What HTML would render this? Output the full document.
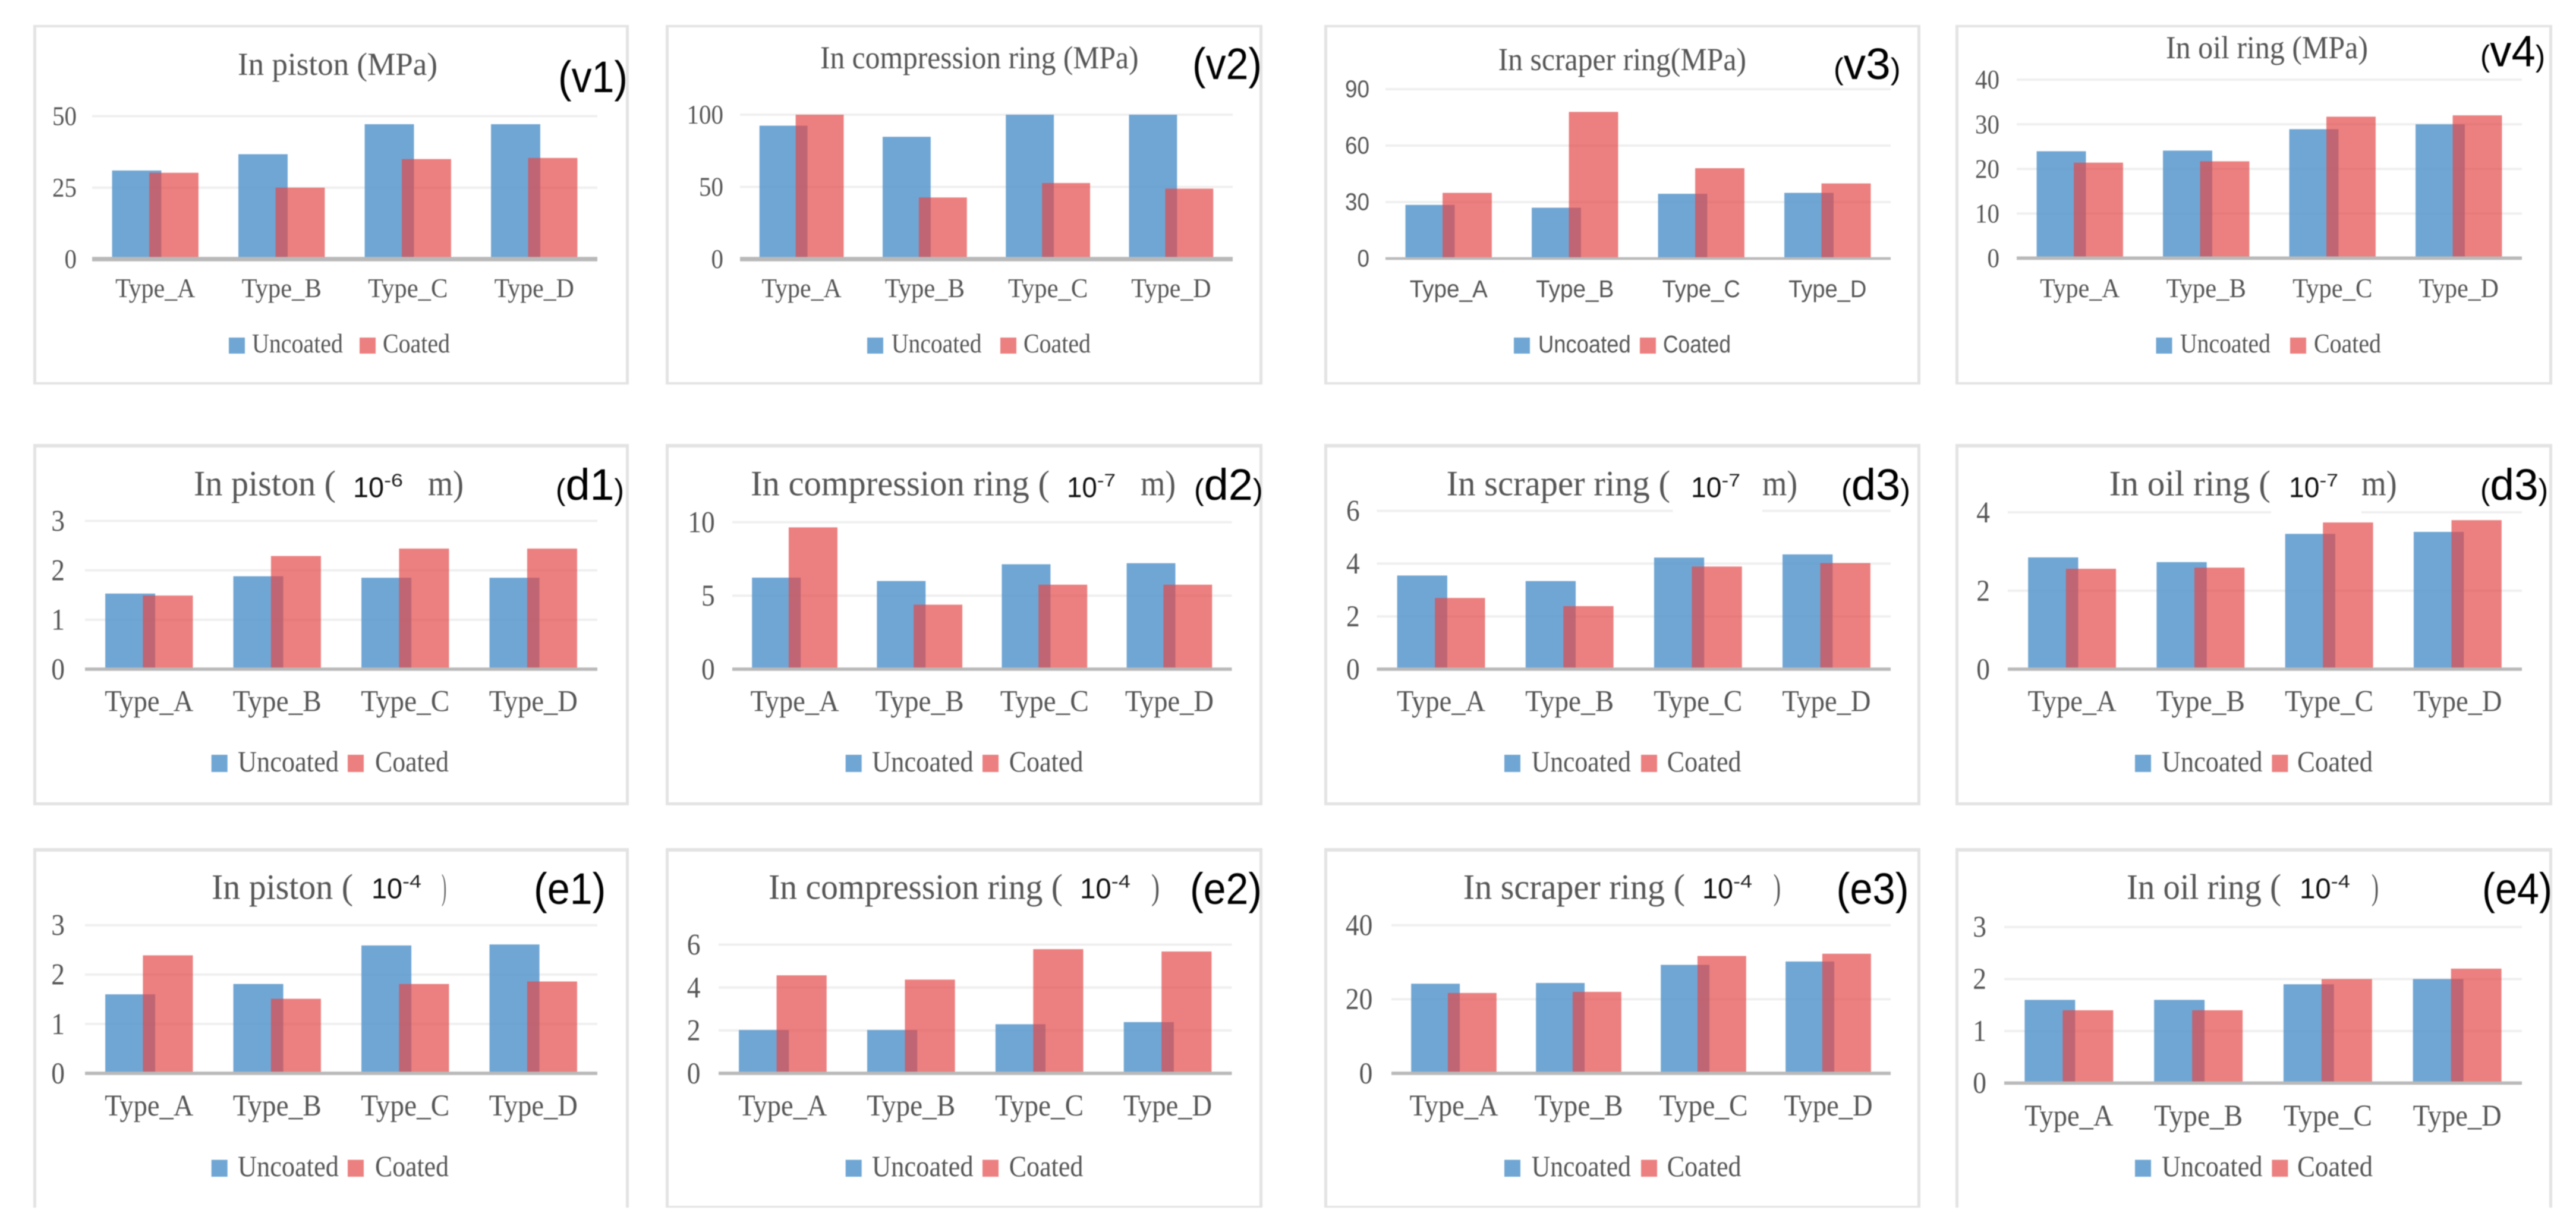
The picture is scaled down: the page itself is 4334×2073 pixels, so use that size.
<!DOCTYPE html>
<html lang="en">
<head>
<meta charset="utf-8">
<title>Stress, deformation and strain: uncoated vs coated</title>
<style>
html,body{margin:0;padding:0;background:#fff;width:4334px;height:2073px;overflow:hidden}
svg{display:block;filter:blur(0.8px)}
text{white-space:pre}
</style>
</head>
<body>
<svg id="figure" xmlns="http://www.w3.org/2000/svg" width="4334" height="2073" viewBox="0 0 4334 2073"></svg>
<script>
const categories = ['Type_A', 'Type_B', 'Type_C', 'Type_D'];
const seriesNames = ['Uncoated', 'Coated'];

const v1Uncoated = [31, 36.7, 47.2, 47.2];
const v1Coated = [30.2, 25, 35, 35.4];
const v1Ticks = [0, 25, 50];

const v2Uncoated = [92.4, 84.7, 100, 100];
const v2Coated = [100, 42.7, 52.7, 48.8];
const v2Ticks = [0, 50, 100];

const v3Uncoated = [28.5, 27, 34.4, 34.9];
const v3Coated = [34.9, 77.9, 48, 39.9];
const v3Ticks = [0, 30, 60, 90];

const v4Uncoated = [23.95, 24.1, 28.9, 30];
const v4Coated = [21.4, 21.7, 31.7, 32];
const v4Ticks = [0, 10, 20, 30, 40];

const d1Uncoated = [1.53, 1.88, 1.85, 1.85];
const d1Coated = [1.49, 2.29, 2.44, 2.44];
const d1Ticks = [0, 1, 2, 3];

const d2Uncoated = [6.23, 6.0, 7.14, 7.21];
const d2Coated = [9.65, 4.39, 5.75, 5.75];
const d2Ticks = [0, 5, 10];

const d3Uncoated = [3.55, 3.34, 4.23, 4.35];
const d3Coated = [2.7, 2.39, 3.89, 4.02];
const d3Ticks = [0, 2, 4, 6];

const d4Uncoated = [2.85, 2.73, 3.45, 3.5];
const d4Coated = [2.56, 2.59, 3.74, 3.8];
const d4Ticks = [0, 2, 4];

const e1Uncoated = [1.6, 1.81, 2.59, 2.61];
const e1Coated = [2.39, 1.51, 1.81, 1.86];
const e1Ticks = [0, 1, 2, 3];

const e2Uncoated = [2.02, 2.02, 2.29, 2.39];
const e2Coated = [4.57, 4.37, 5.79, 5.68];
const e2Ticks = [0, 2, 4, 6];

const e3Uncoated = [24.2, 24.4, 29.3, 30.2];
const e3Coated = [21.7, 22, 31.7, 32.3];
const e3Ticks = [0, 20, 40];

const e4Uncoated = [1.6, 1.6, 1.9, 2.0];
const e4Coated = [1.4, 1.4, 2.0, 2.2];
const e4Ticks = [0, 1, 2, 3];

const SERIF = '"Liberation Serif", serif';
const SANS = '"Liberation Sans", sans-serif';
const TEXT_COLOR = '#565656';
const BLUE = '#5796CC';
const RED = '#E44747';

const rowFrames = {
  r1: {top: 42, topH: 4, bottom: 643, bottomH: 4},
  r2: {top: 747, topH: 6, bottom: 1350, bottomH: 5},
  r3: {top: 1427, topH: 6, bottom: 2029, bottomH: 3}
};
const colFrames = {
  c1: {left: 56, right: 1058},
  c2: {left: 1120, right: 2124},
  c3: {left: 2228, right: 3231},
  c4: {left: 3290, right: 4294}
};

const panels = [
  {id: 'v1', u: v1Uncoated, c: v1Coated, ticks: v1Ticks, row: 'r1', col: 'c1', L: 155, R: 1005, y0: 436, yTop: 195.5, axisH: 7.5, tickRight: 129, fs: 41, catY: 500,
   title: [{t: 'In piston (MPa)', a: 400, b: 736}], titleY: 126,
   leg: [385, 424, 577, 605, 644, 757], legY: 568, legH: 27, legBase: 593,
   tag: {t: 'v1', a: 939, b: 1056, y: 155, small: false}},
  {id: 'v2', u: v2Uncoated, c: v2Coated, ticks: v2Ticks, row: 'r1', col: 'c2', L: 1245, R: 2074, y0: 436, yTop: 193, axisH: 7.5, tickRight: 1217, fs: 41, catY: 500,
   title: [{t: 'In compression ring (MPa)', a: 1380, b: 1915.5}], titleY: 115,
   leg: [1459, 1500, 1651.5, 1683, 1722, 1835], legY: 568, legH: 27, legBase: 593,
   tag: {t: 'v2', a: 2006, b: 2123, y: 133, small: false}},
  {id: 'v3', u: v3Uncoated, c: v3Coated, ticks: v3Ticks, row: 'r1', col: 'c3', L: 2331, R: 3181, y0: 435, yTop: 150, axisH: 4.5, tickRight: 2304, fs: 41, catY: 500, sansLabels: true,
   title: [{t: 'In scraper ring(MPa)', a: 2520.6, b: 2938}], titleY: 118,
   leg: [2547, 2588, 2743.7, 2759, 2798, 2912], legY: 568, legH: 27, legBase: 593,
   tag: {t: 'v3', a: 3085, b: 3197.5, y: 133, small: true}},
  {id: 'v4', u: v4Uncoated, c: v4Coated, ticks: v4Ticks, row: 'r1', col: 'c4', L: 3393, R: 4243, y0: 434.4, yTop: 134, axisH: 5.8, tickRight: 3364, fs: 41, catY: 500,
   title: [{t: 'In oil ring (MPa)', a: 3644, b: 3984}], titleY: 98,
   leg: [3627.5, 3668, 3820, 3853, 3893, 4006], legY: 568, legH: 27, legBase: 593,
   tag: {t: 'v4', a: 4173, b: 4282, y: 111.6, small: true}},

  {id: 'd1', u: d1Uncoated, c: d1Coated, ticks: d1Ticks, row: 'r2', col: 'c1', L: 143, R: 1005, y0: 1126, yTop: 876.5, axisH: 5.6, tickRight: 109, fs: 45.5, catY: 1196.5,
   title: [{t: 'In piston (', a: 326, b: 565}, {t: 'm)', a: 720, b: 780}], titleY: 833.6,
   eq: {base: '10', exp: '-6', a: 594, b: 678, y: 836.6},
   leg: [355.7, 400, 570, 585, 631, 755], legY: 1270, legH: 29, legBase: 1298,
   tag: {t: 'd1', a: 935, b: 1050, y: 841, small: true}},
  {id: 'd2', u: d2Uncoated, c: d2Coated, ticks: d2Ticks, row: 'r2', col: 'c2', L: 1232, R: 2072.5, y0: 1126, yTop: 878.7, axisH: 5.6, tickRight: 1202.7, fs: 45.5, catY: 1196.5,
   title: [{t: 'In compression ring (', a: 1263, b: 1766}, {t: 'm)', a: 1919, b: 1978}], titleY: 833.6,
   eq: {base: '10', exp: '-7', a: 1795, b: 1877, y: 836.6},
   leg: [1422.7, 1467, 1637.6, 1653, 1697.7, 1822.4], legY: 1270, legH: 29, legBase: 1298,
   tag: {t: 'd2', a: 2009, b: 2124.6, y: 841, small: true}},
  {id: 'd3', u: d3Uncoated, c: d3Coated, ticks: d3Ticks, row: 'r2', col: 'c3', L: 2316.5, R: 3181, y0: 1126, yTop: 859.6, axisH: 5.6, tickRight: 2287.7, fs: 45.5, catY: 1196.5,
   title: [{t: 'In scraper ring (', a: 2433.6, b: 2810}, {t: 'm)', a: 2965, b: 3024}], titleY: 833.6,
   eq: {base: '10', exp: '-7', a: 2845, b: 2928, y: 836.6},
   eqBox: {x: 2814.5, w: 150.5, y: 790, h: 80},
   leg: [2531, 2576.7, 2744, 2761, 2804.7, 2929.6], legY: 1270, legH: 29, legBase: 1298,
   tag: {t: 'd3', a: 3098, b: 3214, y: 841, small: true}},
  {id: 'd4', u: d4Uncoated, c: d4Coated, ticks: d4Ticks, row: 'r2', col: 'c4', L: 3378, R: 4243, y0: 1126, yTop: 862, axisH: 5.6, tickRight: 3348, fs: 45.5, catY: 1196.5,
   title: [{t: 'In oil ring (', a: 3548.6, b: 3820}, {t: 'm)', a: 3973, b: 4032.6}], titleY: 833.6,
   eq: {base: '10', exp: '-7', a: 3851, b: 3934, y: 836.6},
   eqBox: {x: 3821, w: 152, y: 790, h: 80},
   leg: [3592, 3637, 3806.5, 3822.4, 3865, 3992], legY: 1270, legH: 29, legBase: 1298,
   tag: {t: 'd3', a: 4173, b: 4287, y: 841, small: true}},

  {id: 'e1', u: e1Uncoated, c: e1Coated, ticks: e1Ticks, row: 'r3', col: 'c1', L: 143, R: 1005, y0: 1806, yTop: 1556.8, axisH: 5.6, tickRight: 109, fs: 45.5, catY: 1877,
   title: [{t: 'In piston (', a: 356, b: 594}, {t: ')', a: 743, b: 751}], titleY: 1512.6,
   eq: {base: '10', exp: '-4', a: 625, b: 709, y: 1511.7},
   leg: [355.7, 400, 570, 585, 631, 755], legY: 1951.5, legH: 28.5, legBase: 1979,
   tag: {t: 'e1', a: 898, b: 1019.4, y: 1521, small: false}, noBottom: true},
  {id: 'e2', u: e2Uncoated, c: e2Coated, ticks: e2Ticks, row: 'r3', col: 'c2', L: 1209, R: 2072.5, y0: 1806, yTop: 1589.5, axisH: 5.6, tickRight: 1178.5, fs: 45.5, catY: 1877,
   title: [{t: 'In compression ring (', a: 1293, b: 1788}, {t: ')', a: 1937, b: 1951}], titleY: 1512.6,
   eq: {base: '10', exp: '-4', a: 1817, b: 1902, y: 1511.7},
   leg: [1422.7, 1467, 1637.6, 1653, 1697.7, 1822.4], legY: 1951.5, legH: 28.5, legBase: 1979,
   tag: {t: 'e2', a: 2002, b: 2123, y: 1521, small: false}},
  {id: 'e3', u: e3Uncoated, c: e3Coated, ticks: e3Ticks, row: 'r3', col: 'c3', L: 2341, R: 3181, y0: 1806, yTop: 1556.8, axisH: 5.6, tickRight: 2309.4, fs: 45.5, catY: 1877,
   title: [{t: 'In scraper ring (', a: 2461.7, b: 2835}, {t: ')', a: 2983.6, b: 2996}], titleY: 1512.6,
   eq: {base: '10', exp: '-4', a: 2864, b: 2948, y: 1511.7},
   leg: [2531, 2576.7, 2744, 2761, 2804.7, 2929.6], legY: 1951.5, legH: 28.5, legBase: 1979,
   tag: {t: 'e3', a: 3089.5, b: 3211.6, y: 1521, small: false}},
  {id: 'e4', u: e4Uncoated, c: e4Coated, ticks: e4Ticks, row: 'r3', col: 'c4', L: 3372, R: 4243, y0: 1822.4, yTop: 1559.9, axisH: 5.6, tickRight: 3342, fs: 45.5, catY: 1894,
   title: [{t: 'In oil ring (', a: 3578, b: 3838}, {t: ')', a: 3990, b: 4002}], titleY: 1512.6,
   eq: {base: '10', exp: '-4', a: 3869, b: 3954, y: 1511.7},
   leg: [3592, 3637, 3806.5, 3822.4, 3865, 3992], legY: 1951.5, legH: 28.5, legBase: 1979,
   tag: {t: 'e4', a: 4176, b: 4294, y: 1521, small: false}, noBottom: true}
];

const svg = document.getElementById('figure');
const NS = 'http://www.w3.org/2000/svg';

function makeRect(parent, x, y, w, h, fill, opacity) {
  const r = document.createElementNS(NS, 'rect');
  r.setAttribute('x', x);
  r.setAttribute('y', y);
  r.setAttribute('width', w);
  r.setAttribute('height', h);
  r.setAttribute('fill', fill);
  if (opacity !== undefined) r.setAttribute('fill-opacity', opacity);
  parent.appendChild(r);
  return r;
}

function makeText(parent, str, x, y, size, family, color, anchor, fit) {
  const t = document.createElementNS(NS, 'text');
  t.setAttribute('x', x);
  t.setAttribute('y', y);
  t.setAttribute('font-size', size);
  t.setAttribute('font-family', family);
  t.setAttribute('fill', color);
  t.setAttribute('text-anchor', anchor || 'start');
  if (fit) {
    t.setAttribute('textLength', fit);
    t.setAttribute('lengthAdjust', 'spacingAndGlyphs');
  }
  t.textContent = str;
  parent.appendChild(t);
  return t;
}

function yScale(p) {
  const maxVal = p.ticks[p.ticks.length - 1];
  return function (v) {
    return p.y0 - (v / maxVal) * (p.y0 - p.yTop);
  };
}

function xBand(p) {
  const band = (p.R - p.L) / categories.length;
  return function (i) {
    return p.L + band * (i + 0.5);
  };
}

panels.forEach(function (p) {
  const g = document.createElementNS(NS, 'g');
  
  
  svg.appendChild(g);

  const rf = rowFrames[p.row];
  const cf = colFrames[p.col];
  const frameColor = '#e3e3e3';

  const frameTop = makeRect(g, cf.left, rf.top, cf.right - cf.left, rf.topH, frameColor);
  
  
  const frameLeft = makeRect(g, cf.left, rf.top, 5, rf.bottom + rf.bottomH - rf.top, frameColor);
  
  
  const frameRight = makeRect(g, cf.right - 5, rf.top, 5, rf.bottom + rf.bottomH - rf.top, frameColor);
  
  
  if (!p.noBottom) {
    const frameBottom = makeRect(g, cf.left, rf.bottom, cf.right - cf.left, rf.bottomH, frameColor);
    
    
  }

  const y = yScale(p);
  const x = xBand(p);
  const band = (p.R - p.L) / categories.length;
  const barW = band * 0.39;
  const barOffset = band * 0.294;
  const labelSize = p.sansLabels ? p.fs : p.fs * 1.12;

  p.ticks.forEach(function (tick) {
    if (tick !== 0) {
      const grid = makeRect(g, p.L, y(tick) - 2, p.R - p.L, 4, '#efefef');
      
      
    }
    const label = makeText(g, String(tick), p.tickRight, y(tick) + labelSize * 0.33, labelSize, p.sansLabels ? SANS : SERIF, TEXT_COLOR, 'end', String(tick).length * p.fs * 0.5);
    
    
  });

  if (p.eqBox) {
    const box = makeRect(g, p.eqBox.x, p.eqBox.y, p.eqBox.w, p.eqBox.h, '#ffffff');
    
    
  }

  categories.forEach(function (cat, i) {
    const start = x(i) - (barW + barOffset) / 2;
    const uTop = y(p.u[i]);
    const cTop = y(p.c[i]);
    const uBar = makeRect(g, start, uTop, barW, p.y0 - uTop, BLUE, 0.85);
    
    
    const cBar = makeRect(g, start + barOffset, cTop, barW, p.y0 - cTop, RED, 0.69);
    
    
    const catLabel = makeText(g, cat, x(i), p.catY, labelSize, p.sansLabels ? SANS : SERIF, TEXT_COLOR, 'middle', p.sansLabels ? p.fs * 3.2 : p.fs * 3.277);
    
    
  });

  const axis = makeRect(g, p.L, p.y0 - p.axisH / 2, p.R - p.L, p.axisH, '#b9b9b9');
  
  

  p.title.forEach(function (part) {
    const tt = makeText(g, part.t, part.a, p.titleY, p.fs * 1.32, SERIF, TEXT_COLOR, 'start', part.b - part.a);
    
    
  });

  if (p.eq) {
    const split = p.eq.a + (p.eq.b - p.eq.a) * 0.62;
    const eqBase = makeText(g, p.eq.base, p.eq.a, p.eq.y, 48, SANS, '#111111', 'start', split - p.eq.a);
    
    
    const eqExp = makeText(g, p.eq.exp, split, p.eq.y - 18, 31, SANS, '#222222', 'start', p.eq.b - split);
    
    
  }

  const lg = p.leg;
  const legFamily = p.sansLabels ? SANS : SERIF;
  const legSize = p.sansLabels ? p.fs - 0.5 : p.fs * 1.1;
  const swatchU = makeRect(g, lg[0], p.legY, 27, p.legH, BLUE, 0.85);
  
  
  const legU = makeText(g, seriesNames[0], lg[1], p.legBase, legSize, legFamily, TEXT_COLOR, 'start', lg[2] - lg[1]);
  
  
  const swatchC = makeRect(g, lg[3], p.legY, 27, p.legH, RED, 0.69);
  
  
  const legC = makeText(g, seriesNames[1], lg[4], p.legBase, legSize, legFamily, TEXT_COLOR, 'start', lg[5] - lg[4]);
  
  

  const tagText = makeText(g, '', p.tag.a, p.tag.y, 74, SANS, '#000000', 'start', p.tag.b - p.tag.a);
  
  
  const parenSize = p.tag.small ? 50 : 74;
  [['(', parenSize], [p.tag.t, 74], [')', parenSize]].forEach(function (piece) {
    const span = document.createElementNS(NS, 'tspan');
    span.setAttribute('font-size', piece[1]);
    span.textContent = piece[0];
    tagText.appendChild(span);
  });
});
</script>
</body>
</html>
